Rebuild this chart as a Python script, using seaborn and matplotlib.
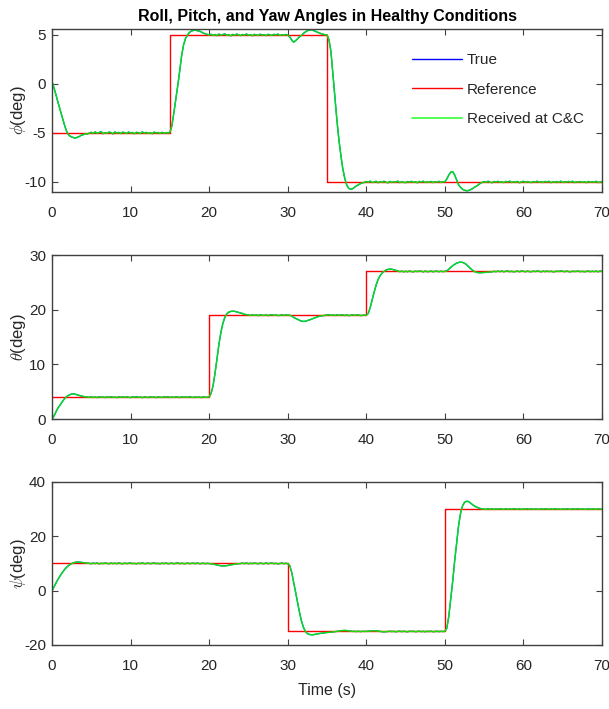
import numpy as np
import pandas as pd
import matplotlib
matplotlib.use("Agg")
import matplotlib.pyplot as plt
from matplotlib.lines import Line2D
import seaborn as sns

# ---------------------------------------------------------------------------
# Data: attitude angles (deg) sampled every 0.25 s over 0..70 s
# ---------------------------------------------------------------------------
time_s = np.arange(0, 281) * 0.25

roll_received = [
    0.22, -0.40, -1.10, -1.85,
    -2.55, -3.25, -3.95, -4.60,
    -5.10, -5.30, -5.42, -5.48,
    -5.52, -5.44, -5.36, -5.22,
    -5.18, -5.08, -5.12, -5.02,
    -4.94, -5.06, -4.90, -5.04,
    -4.96, -4.86, -5.08, -4.98,
    -5.05, -4.92, -4.97, -5.10,
    -4.90, -5.02, -4.95, -5.07,
    -4.93, -4.98, -5.06, -4.91,
    -5.03, -4.96, -5.09, -4.94,
    -4.99, -5.07, -4.90, -5.02,
    -4.95, -5.05, -4.97, -5.08,
    -4.92, -5.01, -4.96, -5.06,
    -4.94, -5.04, -4.98, -5.02,
    -4.95, -4.30, -3.00, -1.60,
    -0.20, 1.30, 2.90, 4.00,
    4.65, 5.00, 5.25, 5.40,
    5.45, 5.50, 5.42, 5.40,
    5.30, 5.18, 5.12, 5.05,
    4.98, 5.06, 4.94, 5.04,
    4.92, 5.08, 4.97, 5.03,
    5.10, 4.95, 5.02, 4.90,
    5.05, 4.96, 5.08, 4.99,
    4.93, 5.04, 4.97, 5.09,
    4.96, 5.02, 4.91, 5.05,
    5.00, 4.94, 5.07, 4.97,
    5.03, 4.92, 5.06, 4.98,
    4.95, 5.05, 4.99, 5.08,
    4.94, 5.02, 4.97, 5.04,
    4.98, 4.80, 4.50, 4.25,
    4.40, 4.60, 4.80, 4.95,
    5.15, 5.30, 5.42, 5.50,
    5.52, 5.45, 5.38, 5.28,
    5.20, 5.12, 5.06, 5.02,
    5.00, 4.50, 3.30, 1.00,
    -1.40, -3.60, -5.60, -7.20,
    -8.60, -9.60, -10.30, -10.65,
    -10.75, -10.70, -10.55, -10.40,
    -10.30, -10.18, -10.10, -10.05,
    -9.96, -10.04, -9.92, -10.06,
    -10.02, -9.94, -10.08, -9.97,
    -10.05, -9.93, -10.03, -10.09,
    -9.95, -10.06, -9.98, -10.02,
    -9.92, -10.07, -9.99, -10.04,
    -10.08, -9.96, -10.03, -9.94,
    -10.05, -9.98, -10.09, -9.95,
    -10.01, -9.93, -10.06, -9.99,
    -10.04, -9.95, -10.07, -9.97,
    -10.03, -9.94, -10.05, -10.00,
    -9.98, -9.70, -9.30, -9.00,
    -8.95, -9.30, -9.80, -10.30,
    -10.55, -10.75, -10.85, -10.90,
    -10.88, -10.80, -10.70, -10.55,
    -10.45, -10.30, -10.15, -10.05,
    -9.97, -10.05, -9.93, -10.03,
    -10.08, -9.96, -10.02, -9.94,
    -10.04, -9.99, -10.07, -9.95,
    -10.01, -9.92, -10.06, -9.98,
    -10.03, -9.95, -10.09, -10.00,
    -9.94, -10.05, -9.97, -10.02,
    -10.07, -9.96, -10.03, -9.93,
    -10.04, -9.98, -10.06, -9.95,
    -10.01, -9.94, -10.08, -9.99,
    -10.03, -9.96, -10.05, -9.92,
    -10.06, -9.98, -10.02, -9.95,
    -10.04, -9.93, -10.07, -9.99,
    -10.02, -9.96, -10.05, -9.97,
    -10.08, -9.95, -10.03, -9.98,
    -10.04, -9.94, -10.06, -10.01,
    -10.00,
]

pitch_received = [
    0.00, 0.55, 1.30, 2.00,
    2.50, 3.05, 3.55, 3.95,
    4.25, 4.45, 4.58, 4.60,
    4.52, 4.40, 4.30, 4.20,
    4.12, 4.05, 4.02, 3.96,
    4.06, 3.94, 4.03, 3.92,
    4.08, 3.97, 4.02, 3.93,
    4.05, 3.96, 4.09, 3.95,
    4.01, 3.92, 4.06, 3.98,
    4.04, 3.95, 4.07, 3.97,
    3.93, 4.05, 3.98, 4.08,
    3.96, 4.02, 3.91, 4.04,
    4.00, 3.94, 4.07, 3.97,
    4.03, 3.92, 4.06, 3.98,
    3.95, 4.05, 3.99, 4.08,
    3.94, 4.02, 3.96, 4.04,
    4.01, 3.93, 4.06, 3.97,
    4.03, 3.95, 4.08, 3.99,
    3.94, 4.04, 3.96, 4.02,
    3.92, 4.05, 3.97, 3.98,
    4.05, 4.70, 6.10, 8.40,
    11.10, 13.70, 15.90, 17.50,
    18.60, 19.25, 19.55, 19.68,
    19.72, 19.70, 19.60, 19.50,
    19.40, 19.30, 19.15, 19.10,
    19.05, 18.94, 19.06, 18.96,
    19.03, 18.92, 19.07, 18.98,
    18.95, 19.04, 18.91, 19.05,
    19.08, 18.97, 19.02, 18.93,
    18.96, 19.06, 18.94, 19.03,
    19.02, 18.98, 18.85, 18.60,
    18.40, 18.25, 18.05, 17.92,
    17.85, 17.88, 18.00, 18.12,
    18.25, 18.40, 18.55, 18.68,
    18.78, 18.85, 18.92, 18.97,
    19.02, 19.08, 18.96, 19.04,
    18.93, 19.06, 18.97, 19.02,
    19.05, 18.94, 19.03, 18.92,
    18.98, 19.07, 18.95, 19.03,
    19.04, 18.93, 18.97, 18.99,
    19.00, 19.30, 20.40, 21.80,
    23.20, 24.50, 25.50, 26.20,
    26.70, 27.00, 27.25, 27.38,
    27.42, 27.40, 27.30, 27.18,
    27.10, 26.96, 27.05, 26.93,
    27.02, 26.95, 27.07, 26.97,
    26.94, 27.04, 26.98, 27.06,
    27.03, 26.92, 27.05, 26.96,
    26.98, 27.06, 26.94, 27.02,
    27.04, 26.95, 27.03, 26.97,
    27.00, 27.10, 27.40, 27.75,
    28.05, 28.30, 28.50, 28.65,
    28.70, 28.65, 28.50, 28.25,
    27.90, 27.55, 27.25, 27.00,
    26.85, 26.78, 26.76, 26.78,
    26.80, 26.84, 26.88, 26.90,
    26.93, 27.02, 26.95, 27.05,
    26.97, 27.06, 26.94, 27.03,
    27.07, 26.96, 27.02, 26.93,
    26.98, 27.05, 26.95, 27.08,
    27.03, 26.94, 27.06, 26.97,
    26.95, 27.04, 26.98, 27.07,
    27.02, 26.93, 27.05, 26.96,
    27.06, 26.97, 27.03, 26.94,
    26.96, 27.05, 26.99, 27.08,
    27.03, 26.95, 27.06, 26.97,
    26.94, 27.04, 26.98, 27.02,
    27.05, 26.96, 27.02, 26.94,
    27.00, 27.07, 26.95, 27.03,
    26.97, 27.05, 26.94, 27.06,
    27.00,
]

yaw_received = [
    0.00, 1.30, 2.80, 4.10,
    5.30, 6.40, 7.40, 8.30,
    9.00, 9.55, 9.95, 10.25,
    10.45, 10.52, 10.50, 10.42,
    10.30, 10.18, 10.10, 10.05,
    9.92, 10.12, 9.95, 10.18,
    9.88, 10.06, 9.97, 10.15,
    10.02, 9.90, 10.14, 9.96,
    10.08, 9.93, 10.20, 9.98,
    9.91, 10.11, 9.95, 10.07,
    10.16, 9.94, 10.04, 9.89,
    10.09, 9.97, 10.17, 9.93,
    9.99, 10.13, 9.92, 10.06,
    10.18, 9.95, 10.03, 9.90,
    10.10, 9.96, 10.15, 9.94,
    9.98, 10.12, 9.91, 10.05,
    10.19, 9.93, 10.08, 9.97,
    9.94, 10.14, 9.96, 10.02,
    10.11, 9.92, 10.16, 9.95,
    9.97, 10.09, 9.93, 10.04,
    9.98, 9.90, 9.78, 9.60,
    9.42, 9.28, 9.15, 9.10,
    9.12, 9.20, 9.35, 9.50,
    9.62, 9.75, 9.85, 9.92,
    9.97, 10.12, 9.94, 10.17,
    9.91, 10.06, 9.96, 10.14,
    10.03, 9.90, 10.15, 9.97,
    9.95, 10.19, 9.92, 10.08,
    10.13, 9.94, 10.05, 9.89,
    9.98, 10.16, 9.93, 10.04,
    9.95, 9.30, 6.80, 3.20,
    -0.50, -4.30, -8.00, -11.20,
    -13.50, -15.00, -15.80, -16.10,
    -16.25, -16.20, -16.10, -15.95,
    -15.80, -15.70, -15.60, -15.50,
    -15.40, -15.35, -15.30, -15.20,
    -15.10, -15.00, -14.90, -14.80,
    -14.70, -14.65, -14.70, -14.80,
    -14.90, -15.00, -15.00, -15.05,
    -14.95, -15.08, -14.97, -15.02,
    -15.00, -14.95, -14.85, -14.80,
    -14.75, -14.80, -14.90, -15.00,
    -15.10, -15.15, -15.10, -15.05,
    -14.94, -15.07, -14.98, -15.12,
    -15.03, -14.92, -15.09, -14.96,
    -15.05, -15.14, -14.95, -15.02,
    -14.97, -15.10, -15.04, -14.93,
    -15.08, -14.99, -15.13, -14.95,
    -15.06, -14.94, -15.11, -15.02,
    -14.97, -15.07, -14.98, -15.04,
    -15.00, -13.80, -9.50, -3.00,
    3.50, 11.00, 17.50, 24.00,
    28.50, 31.20, 32.50, 32.90,
    32.80, 32.30, 31.70, 31.20,
    30.80, 30.50, 30.25, 30.10,
    30.00, 29.92, 30.12, 29.95,
    30.16, 29.90, 30.07, 29.97,
    30.14, 30.02, 29.91, 30.15,
    29.96, 30.09, 29.93, 30.18,
    30.04, 29.94, 30.11, 29.89,
    30.06, 29.97, 30.17, 29.92,
    30.13, 29.95, 30.05, 29.98,
    29.91, 30.12, 29.96, 30.16,
    30.03, 29.93, 30.10, 29.95,
    30.19, 29.97, 30.06, 29.90,
    30.08, 29.94, 30.14, 29.99,
    29.92, 30.11, 29.96, 30.05,
    30.15, 29.93, 30.07, 29.97,
    29.95, 30.10, 29.93, 30.07,
    30.04, 29.91, 30.13, 29.98,
    30.00,
]

# Reference commands (piecewise constant, value holds from each breakpoint)
roll_ref_t = [0, 15, 35, 70]
roll_ref = [-5, 5, -10, -10]
pitch_ref_t = [0, 20, 40, 70]
pitch_ref = [4, 19, 27, 27]
yaw_ref_t = [0, 30, 50, 70]
yaw_ref = [10, -15, 30, 30]

panels = [
    (r"$\phi$(deg)", roll_received, roll_ref_t, roll_ref, (-11.0, 5.6), [-10, -5, 0, 5]),
    (r"$\theta$(deg)", pitch_received, pitch_ref_t, pitch_ref, (0, 30), [0, 10, 20, 30]),
    (r"$\psi$(deg)", yaw_received, yaw_ref_t, yaw_ref, (-20, 40), [-20, 0, 20, 40]),
]

# ---------------------------------------------------------------------------
# Styling
# ---------------------------------------------------------------------------
sns.set_theme(style="ticks")
plt.rcParams["font.family"] = ["Liberation Sans", "DejaVu Sans"]
plt.rcParams["mathtext.fontset"] = "cm"
plt.rcParams["axes.unicode_minus"] = False
plt.rcParams["axes.edgecolor"] = "#404040"
plt.rcParams["axes.linewidth"] = 1.0

TRUE_C = "#0000ff"
REF_C = "#ff0000"
RECV_C = "#00ff00"
TEXT_C = "#262626"
FS = 11

fig = plt.figure(figsize=(6.09, 7.09), dpi=100)
positions = [
    [0.0854, 0.7296, 0.9031, 0.2295],
    [0.0854, 0.4090, 0.9031, 0.2313],
    [0.0854, 0.0903, 0.9031, 0.2299],
]

axes = []
for pos, (ylabel, recv, ref_t, ref_v, ylim, yticks) in zip(positions, panels):
    ax = fig.add_axes(pos)
    df = pd.DataFrame({"t": time_s, "angle": recv})
    ref_df = pd.DataFrame({"t": ref_t, "angle": ref_v})
    sns.lineplot(data=df, x="t", y="angle", ax=ax, color=TRUE_C, lw=0.9,
                 estimator=None, sort=False)
    sns.lineplot(data=ref_df, x="t", y="angle", ax=ax, color=REF_C, lw=1.0,
                 drawstyle="steps-post", estimator=None, sort=False)
    sns.lineplot(data=df, x="t", y="angle", ax=ax, color=RECV_C, lw=1.1,
                 alpha=0.85, estimator=None, sort=False)

    ax.set_xlim(0, 70)
    ax.set_ylim(*ylim)
    ax.set_xticks(range(0, 71, 10))
    ax.set_yticks(yticks)
    ax.set_xlabel("")
    ax.set_ylabel(ylabel, fontsize=FS + 1, color=TEXT_C)
    ax.yaxis.set_label_coords(-0.044, 0.5)
    ax.tick_params(direction="in", length=4, width=0.8, top=True, right=True,
                   labelsize=FS, labelcolor=TEXT_C, color="#404040")
    ax.tick_params(axis="x", pad=10)
    ax.tick_params(axis="y", pad=4.3)
    for s in ax.spines.values():
        s.set_visible(True)
    axes.append(ax)

axes[0].set_title("Roll, Pitch, and Yaw Angles in Healthy Conditions",
                  fontsize=11.5, fontweight="bold", color="black", pad=6)
axes[2].set_xlabel("Time (s)", fontsize=FS + 0.5, color=TEXT_C, labelpad=7)

handles = [
    Line2D([], [], color=TRUE_C, lw=1.0),
    Line2D([], [], color=REF_C, lw=1.0),
    Line2D([], [], color=RECV_C, lw=1.2, alpha=0.8),
]
axes[0].legend(handles, ["True", "Reference", "Received at C&C"],
               loc="upper left", bbox_to_anchor=(0.6545, 0.850), frameon=False,
               fontsize=FS, handlelength=3.27, handletextpad=0.33,
               labelspacing=1.0, borderaxespad=0, borderpad=0,
               labelcolor=TEXT_C)

fig.savefig("out.png", dpi=100)
